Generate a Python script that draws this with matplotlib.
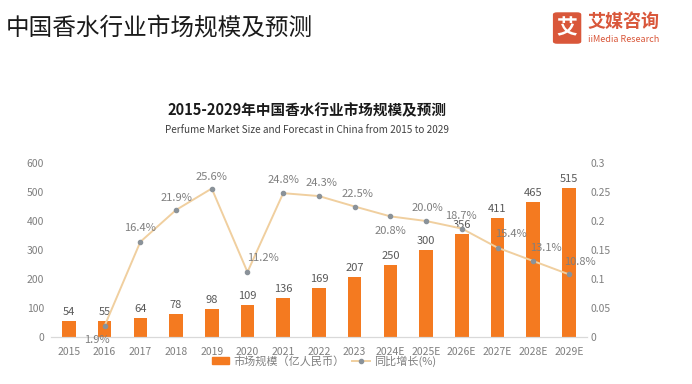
import matplotlib
matplotlib.use("Agg")
import matplotlib.pyplot as plt
from matplotlib.patches import FancyBboxPatch
from matplotlib.lines import Line2D
from matplotlib.patches import Patch

plt.rcParams['font.family'] = ['Noto Sans CJK SC', 'DejaVu Sans']

years = ['2015', '2016', '2017', '2018', '2019', '2020', '2021', '2022', '2023',
         '2024E', '2025E', '2026E', '2027E', '2028E', '2029E']
market_size = [54, 55, 64, 78, 98, 109, 136, 169, 207, 250, 300, 356, 411, 465, 515]
growth_years = years[1:]
growth = [0.019, 0.164, 0.219, 0.256, 0.112, 0.248, 0.243, 0.225, 0.208, 0.200,
          0.187, 0.154, 0.131, 0.108]
growth_labels = ['1.9%', '16.4%', '21.9%', '25.6%', '11.2%', '24.8%', '24.3%', '22.5%',
                 '20.8%', '20.0%', '18.7%', '15.4%', '13.1%', '10.8%']
# label offsets in pixels (dx, dy)
label_offsets = [(-8, -14), (0, 14), (0, 12), (0, 12), (15, 14), (0, 13), (3, 13), (3, 13),
                 (0, -15), (1, 13), (-1, 13), (13, 14), (13, 13), (11, 12)]

BAR = '#F47A20'
LINE = '#F0CF9F'
GRAY = '#595959'
TICK = '#7F7F7F'

fig = plt.figure(figsize=(6.92, 3.84), dpi=100)
ax = fig.add_axes([0.0737, 0.1224, 0.7743, 0.4531])
ax2 = ax.twinx()

x = list(range(len(years)))
bars = ax.bar(x, market_size, width=0.38, color=BAR, zorder=2)
for xi, v in zip(x, market_size):
    ax.annotate(str(v), (xi, v), xytext=(0, 4), textcoords='offset pixels',
                ha='center', va='bottom', fontsize=8, color=GRAY)

ax.set_ylim(0, 600)
ax.set_yticks([0, 100, 200, 300, 400, 500, 600])
ax.set_xlim(-0.5, len(years) - 0.5)
ax.set_xticks(x)
ax.set_xticklabels(years)
ax.tick_params(axis='x', length=0, labelsize=7.5, colors=TICK, pad=7)
ax.tick_params(axis='y', length=0, labelsize=7.5, colors=TICK, pad=5)

gx = x[1:]
ax2.plot(gx, growth, color=LINE, lw=1.4, zorder=3, marker='o', markersize=3,
         markerfacecolor='#8A9299', markeredgecolor='#8A9299')
for xi, v, lab, (dx, dy) in zip(gx, growth, growth_labels, label_offsets):
    ax2.annotate(lab, (xi, v), xytext=(dx, dy), textcoords='offset pixels',
                 ha='center', va='center', fontsize=8, color=TICK)
ax2.set_ylim(0, 0.3)
ax2.set_yticks([0, 0.05, 0.1, 0.15, 0.2, 0.25, 0.3])
ax2.set_yticklabels(['0', '0.05', '0.1', '0.15', '0.2', '0.25', '0.3'])
ax2.tick_params(axis='y', length=0, labelsize=7.5, colors=TICK, pad=3)

for a in (ax, ax2):
    for s in ['top', 'left', 'right']:
        a.spines[s].set_visible(False)
    a.spines['bottom'].set_color('#D9D9D9')

# Legend
handles = [Patch(facecolor=BAR, edgecolor=BAR),
           Line2D([0], [0], color=LINE, lw=1.4, marker='o', markersize=3,
                  markerfacecolor='#8A9299', markeredgecolor='#8A9299')]
fig.legend(handles, ['市场规模（亿人民币）', '同比增长(%)'], loc='center',
           bbox_to_anchor=(0.468, 0.06), ncol=2, frameon=False, fontsize=8,
           labelcolor=TICK, handlelength=1.6, handletextpad=0.4, columnspacing=0.6)

# Titles
fig.text(0.008, 0.928, '中国香水行业市场规模及预测', fontsize=17, color='#1a1a1a',
         ha='left', va='center')
fig.text(0.444, 0.713, '2015-2029年中国香水行业市场规模及预测', fontsize=10.5,
         fontweight='bold', color='#1a1a1a', ha='center', va='center')
fig.text(0.444, 0.661, 'Perfume Market Size and Forecast in China from 2015 to 2029',
         fontsize=7.2, color='#404040', ha='center', va='center')

# Logo
LOGO = '#D9573A'
box = FancyBboxPatch((0.801, 0.888), 0.037, 0.078, boxstyle='round,pad=0.002,rounding_size=0.006',
                     transform=fig.transFigure, facecolor=LOGO, edgecolor='none')
fig.patches.append(box)
fig.text(0.8195, 0.927, '艾', fontsize=15, color='white', fontweight='bold',
         ha='center', va='center')
fig.text(0.849, 0.945, '艾媒咨询', fontsize=13, color=LOGO, fontweight='bold',
         ha='left', va='center')
fig.text(0.849, 0.896, 'iiMedia Research', fontsize=6.5, color=LOGO,
         ha='left', va='center')

fig.savefig('out.png', dpi=100, facecolor='white')
